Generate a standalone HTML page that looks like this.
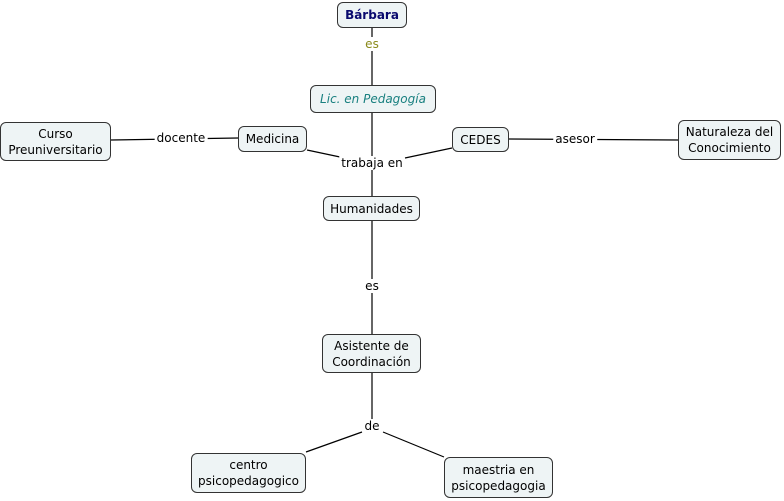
<!DOCTYPE html>
<html><head><meta charset="utf-8"><style>
body{margin:0;background:#fff;width:784px;height:501px;overflow:hidden;position:relative;font-family:"DejaVu Sans","Liberation Sans",sans-serif;font-size:12px;color:#000}
.n{position:absolute;box-sizing:border-box;border:1px solid #333;border-radius:6px;background:#eef4f5;display:flex;align-items:center;justify-content:center;text-align:center;line-height:16px}
.l{position:absolute;background:#fff;transform:translate(-50%,-50%);white-space:nowrap;padding:0 2px}
svg{position:absolute;left:0;top:0}
</style></head><body>
<svg width="784" height="501" stroke="#000" stroke-width="1.2" fill="none">
<line x1="372" y1="28" x2="372" y2="85"/>
<line x1="372" y1="113" x2="372" y2="196"/>
<line x1="307" y1="150" x2="340" y2="157"/>
<line x1="452" y1="148" x2="405" y2="158"/>
<line x1="111" y1="140" x2="238" y2="138"/>
<line x1="509" y1="139" x2="678" y2="140"/>
<line x1="372" y1="221" x2="372" y2="334"/>
<line x1="372" y1="373" x2="372" y2="420"/>
<line x1="362" y1="432" x2="306" y2="452"/>
<line x1="383" y1="432" x2="444" y2="457"/>
</svg>
<div class="n" style="left:337px;top:2px;width:70px;height:26px;color:#0a0a6e;font-weight:bold">Bárbara</div>
<div class="n" style="left:310px;top:85px;width:126px;height:28px;color:#1a8080;font-style:italic">Lic. en Pedagogía</div>
<div class="n" style="left:0;top:122px;width:111px;height:39px">Curso<br>Preuniversitario</div>
<div class="n" style="left:238px;top:126px;width:69px;height:26px">Medicina</div>
<div class="n" style="left:452px;top:127px;width:57px;height:25px">CEDES</div>
<div class="n" style="left:678px;top:120px;width:103px;height:40px">Naturaleza del<br>Conocimiento</div>
<div class="n" style="left:323px;top:196px;width:97px;height:25px">Humanidades</div>
<div class="n" style="left:322px;top:334px;width:99px;height:39px">Asistente de<br>Coordinación</div>
<div class="n" style="left:191px;top:453px;width:115px;height:40px">centro<br>psicopedagogico</div>
<div class="n" style="left:444px;top:457px;width:109px;height:41px">maestria en<br>psicopedagogia</div>
<div class="l" style="left:372px;top:44px;color:#8a8a1a">es</div>
<div class="l" style="left:372px;top:163px">trabaja en</div>
<div class="l" style="left:181px;top:138px">docente</div>
<div class="l" style="left:575px;top:139px">asesor</div>
<div class="l" style="left:372px;top:286px">es</div>
<div class="l" style="left:372px;top:426px">de</div>
</body></html>
